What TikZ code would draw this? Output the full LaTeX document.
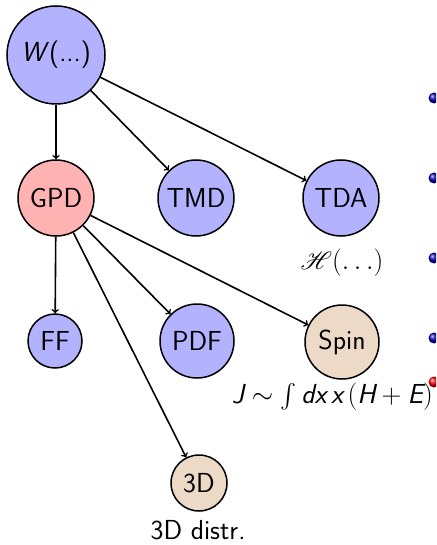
\RequirePackage{fix-cm}
\documentclass[tikz,border=0pt]{standalone}
\usepackage{fontspec}
\usepackage{mathrsfs}
\usepackage{graphicx}
\newcommand\sfi[1]{\mbox{\sffamily\itshape #1}}
\newcommand\bigint{\raisebox{-9.6pt}{\scalebox{2.4}{$\int$}}}
\begin{document}
\begin{tikzpicture}[x=1pt,y=1pt,
  bub/.style={circle,draw,line width=1.5pt,inner sep=0pt,font=\fontsize{27.5}{33}\selectfont\sffamily},
  blu/.style={bub,fill=blue!30},
  pnk/.style={bub,fill=red!30},
  tan/.style={bub,fill=brown!30},
  conn/.style={->,line width=1.6pt},
  lab/.style={font=\fontsize{27.5}{33}\selectfont\sffamily,inner sep=0pt},
  bullet/.style={shading=ball,ball color=#1}]
\clip (0,0) rectangle (436,-545);
\node[blu,minimum size=98pt] (W) at (56,-55) {\textit{W}(...)};
\node[pnk,minimum size=76pt] (GPD) at (56,-198) {GPD};
\node[blu,minimum size=76pt] (TMD) at (196,-198) {TMD};
\node[blu,minimum size=76pt] (TDA) at (341,-198) {TDA};
\node[blu,minimum size=54pt] (FF) at (55,-341) {FF};
\node[blu,minimum size=74pt] (PDF) at (197,-341) {PDF};
\node[tan,minimum size=74pt] (Spin) at (342,-342) {Spin};
\node[tan,minimum size=56pt] (D3) at (199,-483) {3D};
\node[lab] (Hlab) at (342,-263) {$\mathscr{H}(\ldots)$};
\node[lab,anchor=east] (Jlab) at (433,-398) {$\sfi{J}\sim\bigint\,\sfi{dx}\,\sfi{x}\,(\sfi{H}+\sfi{E})$};
\node[lab] (Dlab) at (198,-530) {3D distr.};
\draw[conn] (W) -- (GPD);
\draw[conn] (W) -- (TMD);
\draw[conn] (W) -- (TDA);
\draw[conn] (GPD) -- (FF);
\draw[conn] (GPD) -- (PDF);
\draw[conn] (GPD) -- (Spin);
\draw[conn] (GPD) -- (D3);
\shade[bullet={blue!70!black}] (434,-98) circle (5.5);
\shade[bullet={blue!70!black}] (434,-178) circle (5.5);
\shade[bullet={blue!70!black}] (434,-258) circle (5.5);
\shade[bullet={blue!70!black}] (434,-338) circle (5.5);
\shade[bullet=red] (434,-382) circle (5.5);
\end{tikzpicture}
\end{document}
